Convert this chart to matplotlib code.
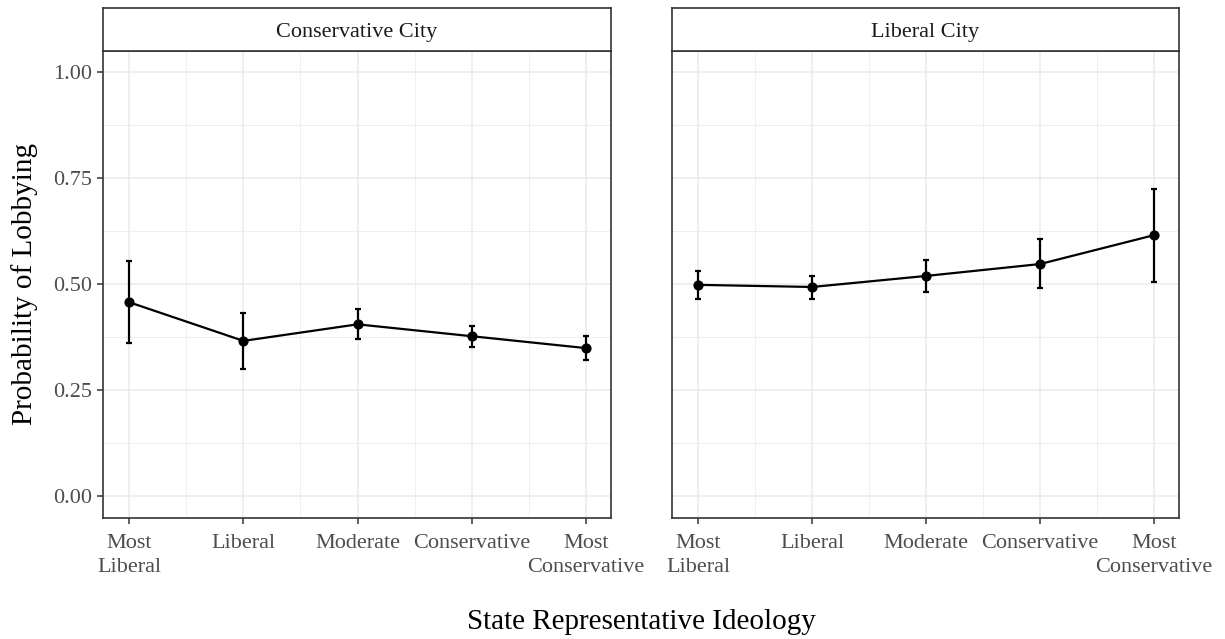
import matplotlib
matplotlib.use("Agg")
import matplotlib.pyplot as plt
import numpy as np

plt.rcParams['font.family'] = ['Liberation Serif', 'DejaVu Serif']

# data
categories = ["Most\nLiberal", "Liberal", "Moderate", "Conservative", "Most\nConservative"]
panels = ["Conservative City", "Liberal City"]

cons_est = [0.457, 0.366, 0.405, 0.377, 0.349]
cons_lo = [0.360, 0.299, 0.370, 0.351, 0.321]
cons_hi = [0.553, 0.432, 0.442, 0.401, 0.377]

lib_est = [0.498, 0.493, 0.519, 0.547, 0.615]
lib_lo = [0.465, 0.465, 0.481, 0.491, 0.505]
lib_hi = [0.531, 0.519, 0.556, 0.605, 0.724]

y_ticks = [0.00, 0.25, 0.50, 0.75, 1.00]

W, H = 1225, 639
fig = plt.figure(figsize=(W / 100, H / 100), dpi=100)


def px_axes(x0, y0, x1, y1):
    # pixel box (top-left origin) -> figure axes
    return fig.add_axes([x0 / W, 1 - y1 / H, (x1 - x0) / W, (y1 - y0) / H])


panel_x = [(103, 611), (672, 1179)]
series = [(cons_est, cons_lo, cons_hi), (lib_est, lib_lo, lib_hi)]
x = np.arange(1, len(categories) + 1)

for i, ((x0, x1), (est, lo, hi), title) in enumerate(zip(panel_x, series, panels)):
    ax = px_axes(x0, 50.5, x1, 517.5)
    ax.set_xlim(0.77, 5.22)
    ax.set_ylim(-0.05, 1.05)
    ax.set_facecolor('white')

    # grid
    ax.set_xticks(x)
    ax.set_xticks(x[:-1] + 0.5, minor=True)
    ax.set_yticks(y_ticks)
    ax.set_yticks(np.array(y_ticks[:-1]) + 0.125, minor=True)
    ax.grid(which='major', color='#EBEBEB', linewidth=1.1)
    ax.grid(which='minor', color='#EBEBEB', linewidth=0.55)
    ax.set_axisbelow(True)

    est = np.array(est)
    yerr = [est - np.array(lo), np.array(hi) - est]
    ax.plot(x, est, color='black', linewidth=1.6, zorder=3)
    ax.errorbar(x, est, yerr=yerr, fmt='none', ecolor='black', elinewidth=1.6,
                capsize=2.5, capthick=1.6, zorder=3)
    ax.scatter(x, est, s=40, color='black', zorder=4)

    ax.set_xticklabels(categories, fontsize=16, color='#4D4D4D', linespacing=1.32)
    ax.tick_params(axis='x', which='major', length=4, width=1.1, color='#333333', pad=8)
    ax.tick_params(axis='y', which='major', length=4, width=1.1, color='#333333', pad=4)
    ax.tick_params(which='minor', length=0)
    if i == 0:
        ax.set_yticklabels([f"{v:.2f}" for v in y_ticks], fontsize=16, color='#4D4D4D')
    else:
        ax.tick_params(axis='y', left=False, labelleft=False)

    for s in ax.spines.values():
        s.set_color('#333333')
        s.set_linewidth(1.2)

    # strip
    sx = px_axes(x0, 7.5, x1, 50.5)
    sx.set_xticks([])
    sx.set_yticks([])
    sx.set_facecolor('white')
    for s in sx.spines.values():
        s.set_color('#333333')
        s.set_linewidth(1.2)
    sx.text(0.5, 0.43, title, ha='center', va='center', fontsize=16,
            color='#1A1A1A', transform=sx.transAxes)

fig.text(641 / W, 1 - 622 / H, "State Representative Ideology", ha='center', va='center',
         fontsize=21)
fig.text(25 / W, 1 - 284 / H, "Probability of Lobbying", ha='center', va='center',
         fontsize=21, rotation=90)

fig.savefig("out.png", dpi=100)
